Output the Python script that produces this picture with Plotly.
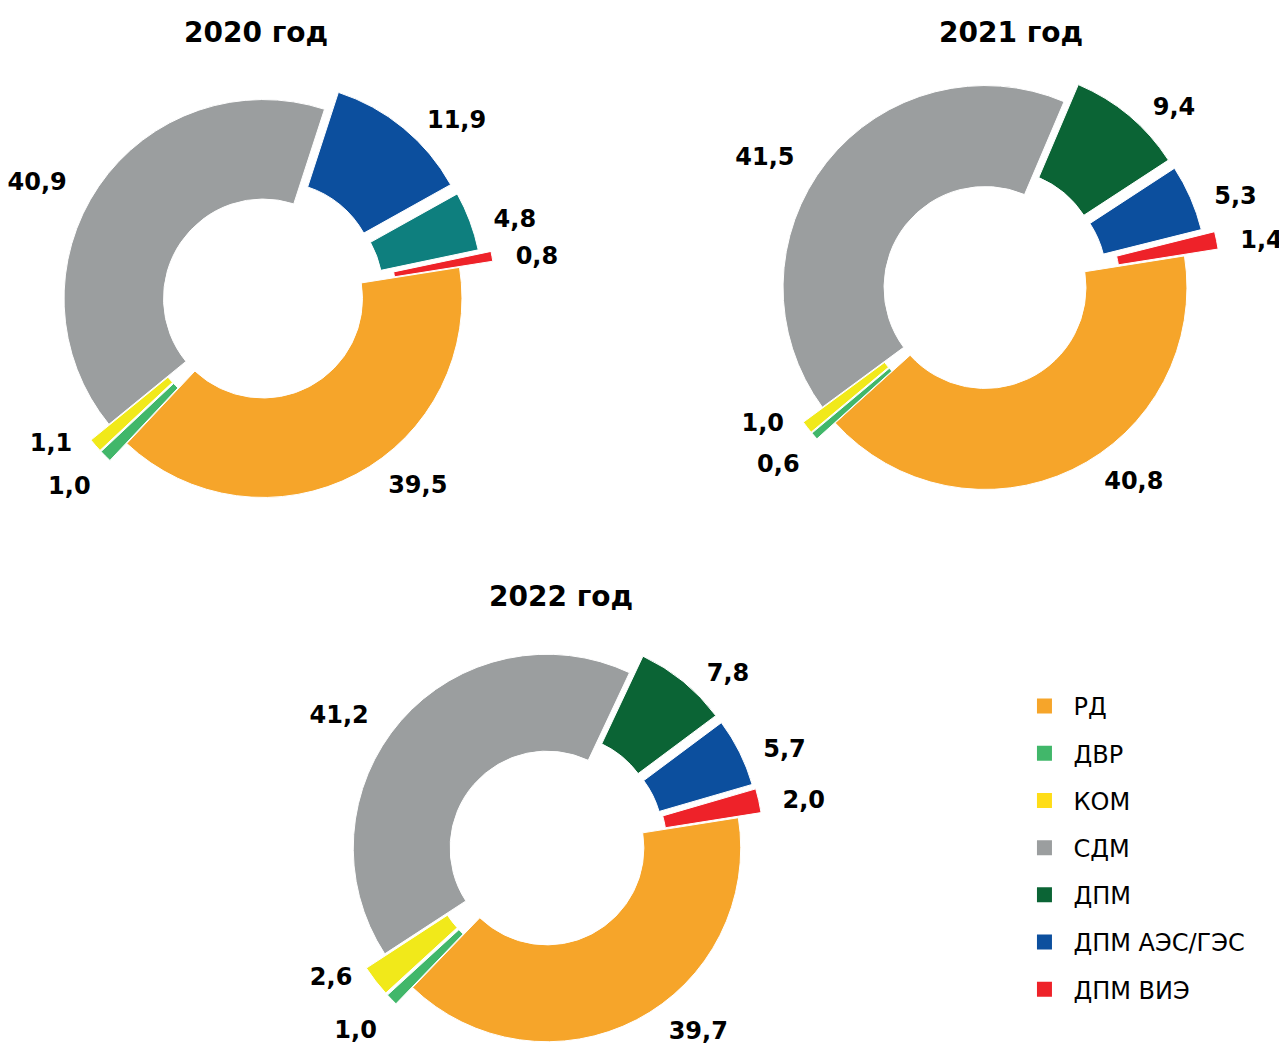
import plotly.graph_objects as go

labels = ['РД', 'ДВР', 'КОМ', 'СДМ', 'ДПМ', 'ДПМ АЭС/ГЭС', 'ДПМ ВИЭ']
years = ['2020 год', '2021 год', '2022 год']
values_2020 = [39.5, 1.0, 1.1, 40.9, 11.9, 4.8, 0.8]
values_2021 = [40.8, 0.6, 1.0, 41.5, 9.4, 5.3, 1.4]
values_2022 = [39.7, 1.0, 2.6, 41.2, 7.8, 5.7, 2.0]

legend_colors = ['#F6A52A', '#41B76A', '#FFDD17', '#9B9E9F', '#0B6435', '#0C4F9E', '#EE2229']
colors_2020 = ['#F6A52A', '#41B76A', '#F1E91A', '#9B9E9F', '#0C4F9E', '#0E7F7E', '#EE2229']
colors_other = ['#F6A52A', '#41B76A', '#F1E91A', '#9B9E9F', '#0B6435', '#0C4F9E', '#EE2229']
pulls = [0, 0.12, 0.12, 0, 0.11, 0.11, 0.17]
pulls_2022 = [0, 0.12, 0.12, 0, 0.11, 0.11, 0.12]  # less room at the bottom of the page

FONT = 'DejaVu Sans'
NB = '\u00a0'
VAL = '%{value:.1f}'

# label text per slice: right-side labels padded on the left, left-side on the right;
# the ДВР label goes on its own overlay trace so it is not scooted next to КОМ
main_text = [NB * 3 + VAL, '', VAL + NB + '<br>' + NB, VAL + NB * 3,
             NB * 2 + VAL, NB * 2 + VAL, NB * 2 + VAL]
dvr_text = ['', NB + '<br>' + VAL, '', '', '', '', '']

label_font = dict(family=FONT, size=24, color='black', weight='bold')

fig = go.Figure()

pies = [
    (values_2020, colors_2020, pulls, [0.01725, 0.37902], [0.50492, 0.94541]),
    (values_2021, colors_other, pulls, [0.57552, 0.94274], [0.51202, 0.95913]),
    (values_2022, colors_other, pulls_2022, [0.25019, 0.58741], [0.0, 0.41060]),
]
for vals, cols, pl, dx, dy in pies:
    fig.add_trace(go.Pie(
        labels=labels, values=vals, sort=False, direction='clockwise', rotation=81,
        hole=0.5, pull=pl, marker=dict(colors=cols, line=dict(color='white', width=1)),
        texttemplate=main_text, textposition='outside', outsidetextfont=label_font,
        domain=dict(x=dx, y=dy), showlegend=False, hoverinfo='label+value',
    ))
    fig.add_trace(go.Pie(
        labels=labels, values=vals, sort=False, direction='clockwise', rotation=81,
        hole=0.5, pull=pl, marker=dict(colors=['rgba(0,0,0,0)'] * len(vals), line=dict(width=0)),
        texttemplate=dvr_text, textposition='outside', outsidetextfont=label_font,
        domain=dict(x=dx, y=dy), showlegend=False, hoverinfo='skip',
    ))

# legend entries
for lab, col in zip(labels, legend_colors):
    fig.add_trace(go.Scatter(
        x=[None], y=[None], mode='markers', name=lab, legendgroup=lab,
        marker=dict(symbol='square', size=15, color=col),
    ))

for txt, x, y in zip(years, [0.1927, 0.7793, 0.4297], [0.9764, 0.9764, 0.4428]):
    fig.add_annotation(text=txt, x=x, y=y, xref='paper', yref='paper', showarrow=False,
                       xanchor='center', yanchor='middle',
                       font=dict(family=FONT, size=28, color='black', weight='bold'))

fig.update_layout(
    width=1287, height=1057,
    margin=dict(l=0, r=0, t=0, b=0, autoexpand=False),
    paper_bgcolor='white', plot_bgcolor='white',
    separators=', ',
    xaxis=dict(visible=False), yaxis=dict(visible=False),
    legend=dict(x=0.7828, y=0.3605, xanchor='left', yanchor='top',
                font=dict(family=FONT, size=24, color='black'),
                itemwidth=48, tracegroupgap=13, itemclick=False),
)

fig.write_html("out.html")
